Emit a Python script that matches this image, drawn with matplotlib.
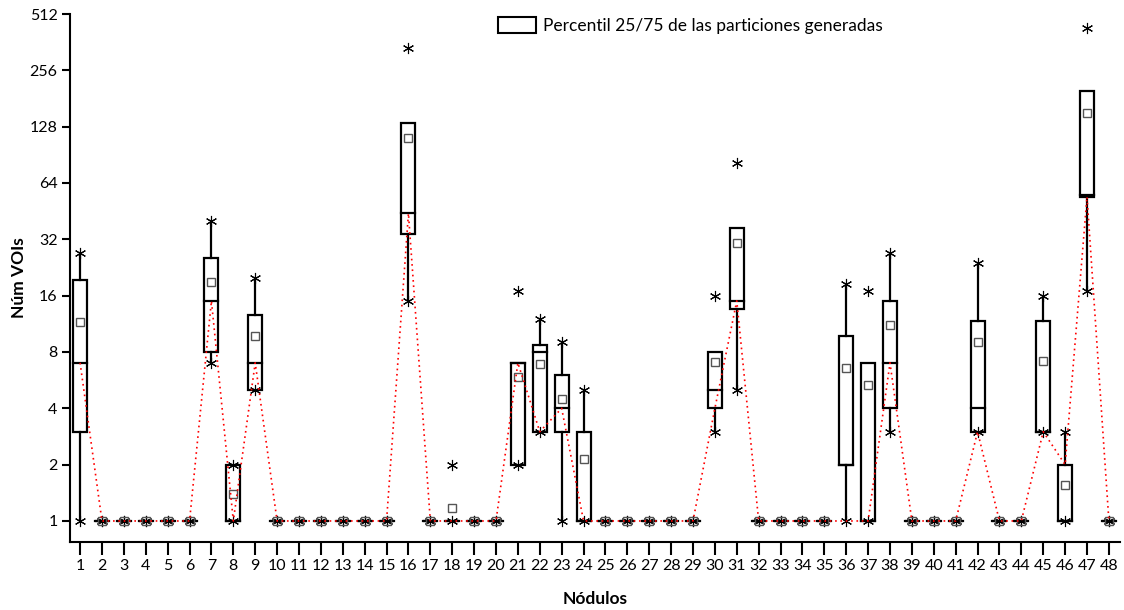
import matplotlib
matplotlib.use("Agg")
import matplotlib.pyplot as plt
import matplotlib.patches as mpatches
from matplotlib.ticker import FixedLocator, FixedFormatter, NullLocator

plt.rcParams['font.family'] = ['Lato', 'DejaVu Sans']

nodules = list(range(1, 49))

# Per-nodule summary of generated partitions (number of VOIs)
q1 = [3, 1, 1, 1, 1, 1, 8, 1, 5, 1, 1, 1, 1, 1, 1, 34, 1, 1, 1, 1,
      2, 3, 3, 1, 1, 1, 1, 1, 1, 4, 13.6, 1, 1, 1, 1, 2, 1, 4, 1, 1,
      1, 3, 1, 1, 3, 1, 54, 1]
median = [7, 1, 1, 1, 1, 1, 15, 1, 7, 1, 1, 1, 1, 1, 1, 44, 1, 1, 1, 1,
          7, 8, 4, 1, 1, 1, 1, 1, 1, 5, 15, 1, 1, 1, 1, 2, 1, 7, 1, 1,
          1, 4, 1, 1, 3, 1, 55, 1]
q3 = [19.5, 1, 1, 1, 1, 1, 25.5, 2, 12.6, 1, 1, 1, 1, 1, 1, 134, 1, 1, 1, 1,
      7, 8.7, 6, 3, 1, 1, 1, 1, 1, 8, 37, 1, 1, 1, 1, 9.7, 7, 15, 1, 1,
      1, 11.7, 1, 1, 11.7, 2, 198, 1]
mean = [11.6, 1, 1, 1, 1, 1, 18.9, 1.4, 9.7, 1, 1, 1, 1, 1, 1, 112, 1, 1.17, 1, 1,
        5.9, 6.9, 4.5, 2.15, 1, 1, 1, 1, 1, 7.1, 30.5, 1, 1, 1, 1, 6.6, 5.3, 11.1, 1, 1,
        1, 9.1, 1, 1, 7.2, 1.55, 151, 1]
whisker_lo = [1, 1, 1, 1, 1, 1, 7, 1, 5, 1, 1, 1, 1, 1, 1, 15, 1, 1, 1, 1,
              2, 3, 1, 1, 1, 1, 1, 1, 1, 3, 5, 1, 1, 1, 1, 1, 1, 3, 1, 1,
              1, 3, 1, 1, 3, 1, 17, 1]
whisker_hi = [27, 1, 1, 1, 1, 1, 40, 2, 20, 1, 1, 1, 1, 1, 1, 134, 1, 1, 1, 1,
              7, 12, 9, 5, 1, 1, 1, 1, 1, 8, 37, 1, 1, 1, 1, 18.5, 7, 27, 1, 1,
              1, 24, 1, 1, 16, 3, 198, 1]
v_min = [1, 1, 1, 1, 1, 1, 7, 1, 5, 1, 1, 1, 1, 1, 1, 15, 1, 1, 1, 1,
         2, 3, 1, 1, 1, 1, 1, 1, 1, 3, 5, 1, 1, 1, 1, 1, 1, 3, 1, 1,
         1, 3, 1, 1, 3, 1, 17, 1]
v_max = [27, 1, 1, 1, 1, 1, 40, 2, 20, 1, 1, 1, 1, 1, 1, 336, 1, 2, 1, 1,
         17, 12, 9, 5, 1, 1, 1, 1, 1, 16, 82, 1, 1, 1, 1, 18.5, 17, 27, 1, 1,
         1, 24, 1, 1, 16, 3, 430, 1]

# Reference number of VOIs per nodule (red dotted line)
reference = [7, 1, 1, 1, 1, 1, 15, 1, 7, 1, 1, 1, 1, 1, 1, 44, 1, 1, 1, 1,
             7, 3, 4, 1, 1, 1, 1, 1, 1, 4, 15, 1, 1, 1, 1, 1, 1, 7, 1, 1,
             1, 3, 1, 1, 3, 2, 54, 1]

y_ticks = [1, 2, 4, 8, 16, 32, 64, 128, 256, 512]

fig = plt.figure(figsize=(11.24, 6.10), dpi=100)
ax = fig.add_axes([0.0623, 1 - 542 / 610, 0.934, (542 - 14) / 610])

box_w = 0.64
lw = 1.6
star = dict(marker=(6, 2, 0), markersize=8, markeredgewidth=0.8,
            color='black', linestyle='none', zorder=4)

for i, n in enumerate(nodules):
    lo, hi = q1[i], q3[i]
    # box (collapsed boxes appear as a single horizontal line)
    ax.add_patch(mpatches.Rectangle((n - box_w / 2, lo), box_w, hi - lo,
                                    facecolor='none', edgecolor='black',
                                    linewidth=lw, zorder=3))
    ax.plot([n - box_w / 2, n + box_w / 2], [median[i], median[i]],
            color='black', linewidth=lw, zorder=3)
    # whiskers
    if whisker_hi[i] > hi:
        ax.plot([n, n], [hi, whisker_hi[i]], color='black', linewidth=lw, zorder=3)
    if whisker_lo[i] < lo:
        ax.plot([n, n], [whisker_lo[i], lo], color='black', linewidth=lw, zorder=3)
    # minimum and maximum
    ax.plot([n, n], [v_min[i], v_max[i]], **star)
    # mean
    ax.plot([n], [mean[i]], marker='s', markersize=6, markerfacecolor='none',
            markeredgecolor='#555555', markeredgewidth=1.0, linestyle='none', zorder=5)

ax.plot(nodules, reference, color='red', linestyle=(0, (1, 2.2)),
        linewidth=1.2, zorder=6)

ax.set_yscale('log', base=2)
ax.set_ylim(0.772, 512)
ax.set_xlim(0.54, 48.5)
ax.yaxis.set_major_locator(FixedLocator(y_ticks))
ax.yaxis.set_major_formatter(FixedFormatter([str(t) for t in y_ticks]))
ax.yaxis.set_minor_locator(NullLocator())
ax.set_xticks(nodules)
ax.set_xticklabels([str(n) for n in nodules])

for side in ('top', 'right'):
    ax.spines[side].set_visible(False)
for side in ('left', 'bottom'):
    ax.spines[side].set_linewidth(1.5)
ax.tick_params(axis='x', direction='out', length=9.5, width=1.5, labelsize=11.5, pad=3)
ax.tick_params(axis='y', direction='out', length=6, width=1.5, labelsize=11.5, pad=3)

ax.set_xlabel('Nódulos', fontsize=12.5, fontweight='bold', labelpad=13)
ax.set_ylabel('Núm VOIs', fontsize=12.5, fontweight='bold', labelpad=2)

handle = mpatches.Patch(facecolor='white', edgecolor='black', linewidth=1.5)
fig.legend([handle], ['Percentil 25/75 de las particiones generadas'],
           loc='upper left', bbox_to_anchor=(0.443, 0.972), frameon=False,
           fontsize=12.5, handlelength=2.2, handleheight=1.0, handletextpad=0.4,
           borderpad=0, borderaxespad=0)

fig.savefig('out.png', dpi=100)
